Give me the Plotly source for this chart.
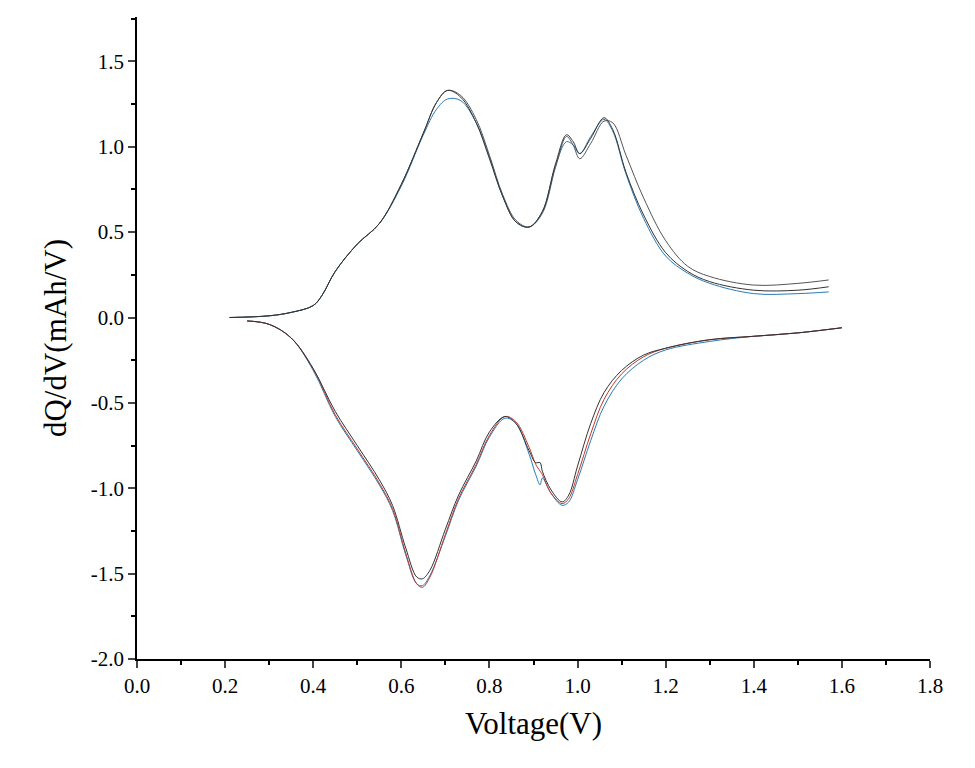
import plotly.graph_objects as go

# charge branch (upper), shared voltages
v_up = [0.21, 0.30, 0.35, 0.40, 0.42, 0.45, 0.50, 0.55, 0.60, 0.65, 0.68, 0.705, 0.735, 0.77, 0.80,
        0.83, 0.86, 0.89, 0.92, 0.95, 0.975, 0.99, 1.005, 1.03, 1.06, 1.08, 1.11, 1.15, 1.20, 1.25,
        1.30, 1.40, 1.50, 1.57]
up_black = [0.0, 0.01, 0.03, 0.07, 0.13, 0.27, 0.43, 0.55, 0.78, 1.08, 1.26, 1.33, 1.29, 1.14, 0.93,
            0.71, 0.56, 0.53, 0.62, 0.90, 1.07, 1.03, 0.96, 1.05, 1.17, 1.10, 0.85, 0.60, 0.38, 0.27,
            0.21, 0.16, 0.16, 0.18]
up_red = [0.0, 0.01, 0.03, 0.07, 0.13, 0.27, 0.43, 0.55, 0.78, 1.08, 1.26, 1.33, 1.30, 1.16, 0.95,
          0.72, 0.57, 0.53, 0.61, 0.88, 1.06, 1.01, 0.93, 1.02, 1.15, 1.14, 0.95, 0.70, 0.45, 0.30,
          0.24, 0.19, 0.20, 0.22]
up_blue = [0.0, 0.01, 0.03, 0.07, 0.13, 0.27, 0.43, 0.55, 0.77, 1.07, 1.22, 1.28, 1.27, 1.14, 0.94,
           0.71, 0.56, 0.53, 0.62, 0.89, 1.03, 1.01, 0.96, 1.06, 1.16, 1.09, 0.84, 0.58, 0.36, 0.26,
           0.20, 0.14, 0.14, 0.15]

# discharge branch (lower)
v_dn = [0.25, 0.30, 0.35, 0.40, 0.45, 0.50, 0.55, 0.58, 0.61, 0.635, 0.648, 0.665, 0.70, 0.73, 0.77,
        0.80, 0.835, 0.86, 0.89, 0.905, 0.915, 0.92, 0.94, 0.965, 0.98, 1.00, 1.03, 1.06, 1.10, 1.15,
        1.20, 1.30, 1.40, 1.50, 1.60]
dn_black = [-0.02, -0.04, -0.12, -0.30, -0.55, -0.75, -0.95, -1.10, -1.35, -1.52, -1.53, -1.48, -1.24,
            -1.04, -0.84, -0.67, -0.58, -0.62, -0.78, -0.85, -0.85, -0.90, -1.01, -1.08, -1.04, -0.87,
            -0.62, -0.44, -0.31, -0.22, -0.18, -0.13, -0.11, -0.09, -0.06]
dn_red = [-0.02, -0.04, -0.12, -0.30, -0.57, -0.77, -0.97, -1.12, -1.38, -1.56, -1.58, -1.52, -1.27,
          -1.06, -0.86, -0.69, -0.58, -0.61, -0.76, -0.86, -0.90, -0.92, -1.03, -1.09, -1.06, -0.92,
          -0.68, -0.48, -0.33, -0.23, -0.18, -0.13, -0.11, -0.09, -0.06]
dn_blue = [-0.02, -0.04, -0.12, -0.31, -0.58, -0.78, -0.98, -1.13, -1.39, -1.56, -1.57, -1.51, -1.28,
           -1.07, -0.87, -0.70, -0.59, -0.62, -0.80, -0.92, -0.98, -0.94, -1.03, -1.10, -1.08, -0.95,
           -0.72, -0.52, -0.36, -0.25, -0.19, -0.14, -0.11, -0.09, -0.06]

x_ticks = [0.0, 0.2, 0.4, 0.6, 0.8, 1.0, 1.2, 1.4, 1.6, 1.8]
y_ticks = [-2.0, -1.5, -1.0, -0.5, 0.0, 0.5, 1.0, 1.5]

fig = go.Figure()
series = [(up_blue, dn_blue, "#2a7ab8", "#2a7ab8"),
          (up_red, dn_red, "#555555", "#c0392b"),
          (up_black, dn_black, "#333333", "#333333")]
for ys_up, ys_dn, c_up, c_dn in series:
    fig.add_trace(go.Scatter(x=v_up, y=ys_up, mode="lines", line=dict(color=c_up, width=1, shape="spline"),
                             showlegend=False))
    fig.add_trace(go.Scatter(x=v_dn, y=ys_dn, mode="lines", line=dict(color=c_dn, width=1, shape="spline"),
                             showlegend=False))

tick_font = dict(family="Liberation Serif, serif", size=21, color="black")
title_font = dict(family="Liberation Serif, serif", size=31, color="black")
axis_common = dict(showline=True, linecolor="black", linewidth=1.5, ticks="outside", ticklen=7,
                   tickwidth=1.5, showgrid=False, zeroline=False, tickfont=tick_font)

fig.update_layout(
    width=975, height=768,
    font=dict(family="Liberation Serif, serif"),
    paper_bgcolor="white", plot_bgcolor="white",
    margin=dict(l=129, r=53, t=9, b=117),
    xaxis=dict(range=[0, 1.8], tickvals=x_ticks, ticktext=[f"{v:.1f}" for v in x_ticks],
               minor=dict(ticks="outside", ticklen=4, tickwidth=1.5, tickcolor="black", dtick=0.1),
               title=dict(text="Voltage(V)", font=title_font), **axis_common),
    yaxis=dict(range=[-2.0, 1.76], tickvals=y_ticks, ticktext=[f"{v:.1f}" for v in y_ticks],
               minor=dict(ticks="outside", ticklen=4, tickwidth=1.5, tickcolor="black", dtick=0.25),
               title=dict(text="dQ/dV(mAh/V)", font=title_font), **axis_common),
)

fig.write_html("out.html")
